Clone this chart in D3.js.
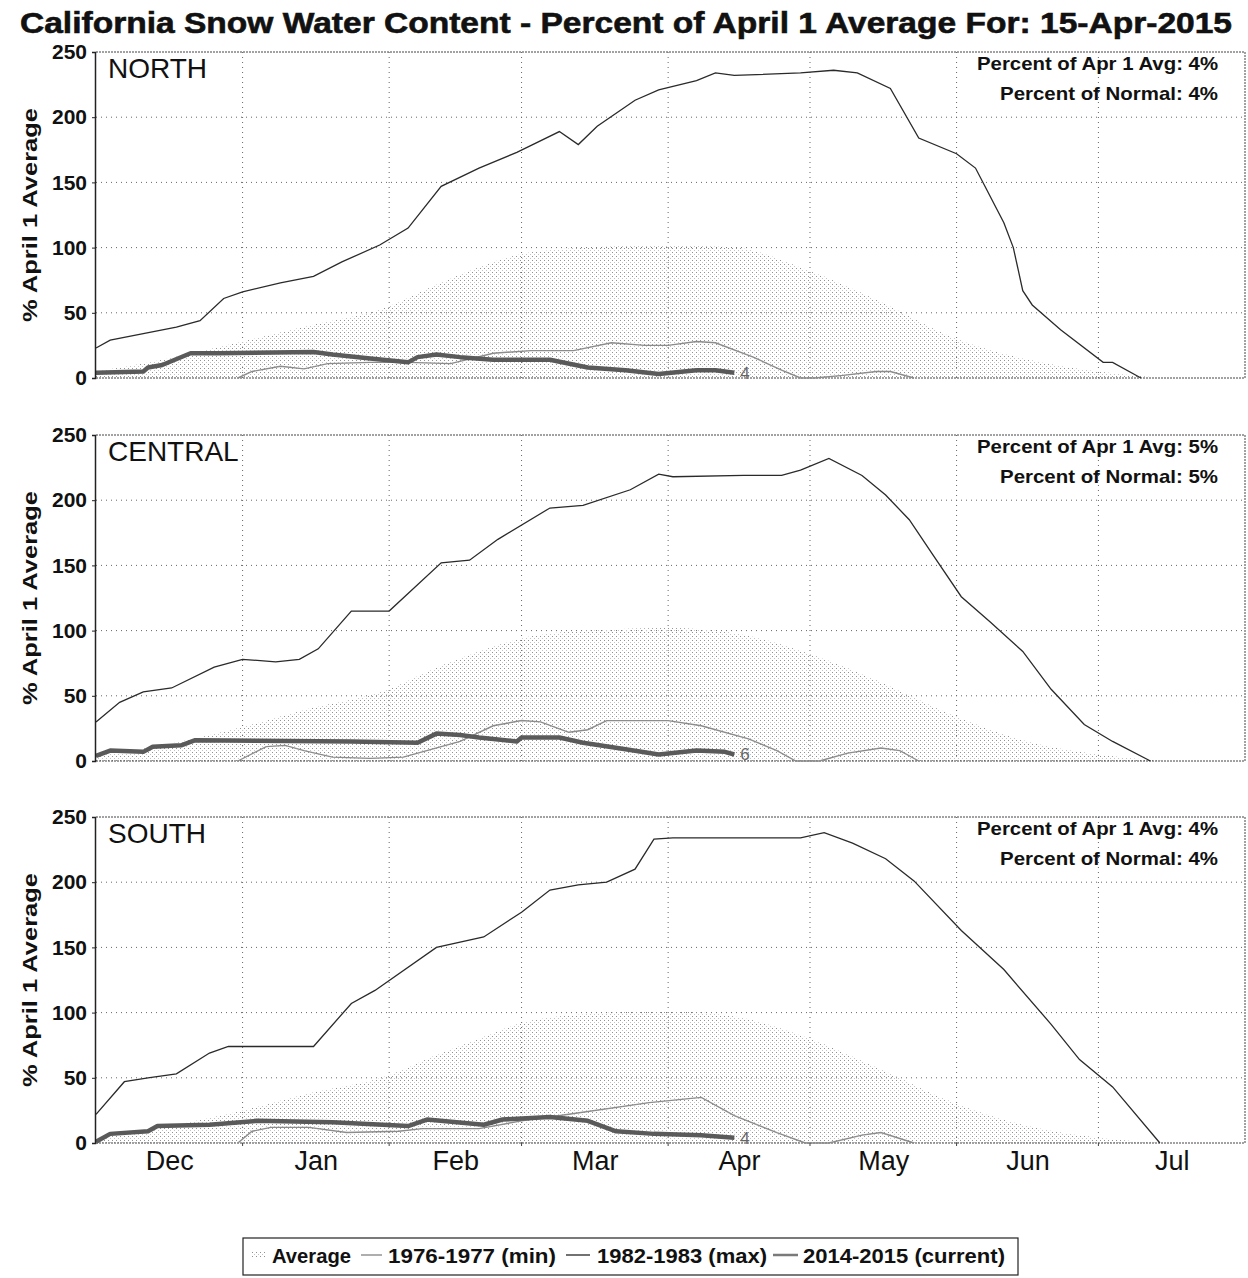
<!DOCTYPE html>
<html><head><meta charset="utf-8">
<script src="https://cdn.jsdelivr.net/npm/d3@7/dist/d3.min.js"></script>
<style>body{margin:0;background:#fff}svg{display:block}</style>
</head><body>
<svg id="c" width="1248" height="1278"></svg>
<script>
const title = "California Snow Water Content - Percent of April 1 Average For: 15-Apr-2015";
const regions = ["NORTH", "CENTRAL", "SOUTH"];
const pctApr1 = ["4%", "5%", "4%"];
const pctNormal = ["4%", "5%", "4%"];
const endLabels = ["4", "6", "4"];
const yTicks = [0, 50, 100, 150, 200, 250];
const monthLabels = ["Dec", "Jan", "Feb", "Mar", "Apr", "May", "Jun", "Jul"];
const seriesNames = ["Average", "1976-1977 (min)", "1982-1983 (max)", "2014-2015 (current)"];

// ---- NORTH ----
const northAvgDates = ["12-01","12-15","01-01","01-15","02-01","02-10","02-20","03-01","03-15","04-01","04-15","05-01","05-15","06-01","06-15","07-01","07-15"];
const northAvgValues = [5,14,28,40,55,70,85,95,100,102,100,82,60,30,15,5,0];
const northMinDates = ["12-31","01-03","01-09","01-14","01-19","01-28","02-05","02-14","02-23","03-03","03-12","03-20","03-27","04-01","04-07","04-11","04-19","04-25","04-29","05-02","05-08","05-15","05-18","05-23"];
const northMinValues = [0,5,9,7,11,12,12,11,19,21,21,27,25,25,28,27,16,6,0,0,2,5,5,0];
const northMaxDates = ["12-01","12-04","12-11","12-18","12-23","12-28","01-01","01-09","01-16","01-22","01-30","02-05","02-12","02-20","02-28","03-09","03-13","03-17","03-25","03-30","04-07","04-11","04-15","04-29","05-06","05-11","05-18","05-24","06-01","06-05","06-07","06-11","06-13","06-15","06-17","06-23","07-02","07-04","07-10"];
const northMaxValues = [23,29,34,39,44,61,66,73,78,89,102,115,147,161,173,189,179,193,213,221,228,234,232,234,236,234,222,184,172,161,147,119,100,67,56,37,12,12,0];
const northCurDates = ["12-01","12-11","12-12","12-15","12-21","12-27","01-16","01-20","01-28","02-05","02-07","02-11","02-16","02-23","03-07","03-15","03-23","03-30","04-07","04-11","04-15"];
const northCurValues = [4,5,8,10,19,19,20,18,15,12,16,18,16,14,14,8,6,3,6,6,4];

// ---- CENTRAL ----
const centralAvgDates = ["12-01","12-15","01-01","01-15","02-01","02-10","02-20","03-01","03-15","04-01","04-15","05-01","05-15","06-01","06-15","07-01","07-15"];
const centralAvgValues = [4,12,26,40,55,70,84,94,100,102,98,82,62,34,16,5,0];
const centralMinDates = ["12-31","01-06","01-10","01-14","01-20","01-28","02-04","02-08","02-16","02-23","03-01","03-05","03-11","03-15","03-19","04-01","04-08","04-18","04-24","04-28","05-03","05-09","05-16","05-20","05-24"];
const centralMinValues = [0,11,12,8,3,2,3,7,15,27,31,30,22,24,31,31,27,17,8,0,0,6,10,8,0];
const centralMaxDates = ["12-01","12-06","12-11","12-17","12-26","01-01","01-08","01-13","01-17","01-24","02-01","02-12","02-18","02-24","03-07","03-14","03-24","03-30","04-02","04-17","04-25","04-29","05-05","05-12","05-17","05-22","05-27","06-02","06-08","06-15","06-21","06-28","07-04","07-12"];
const centralMaxValues = [30,45,53,56,72,78,76,78,86,115,115,152,154,170,194,196,208,220,218,219,219,223,232,219,204,185,158,126,107,84,55,28,15,0];
const centralCurDates = ["12-01","12-04","12-11","12-13","12-19","12-22","01-24","02-07","02-11","02-16","02-20","02-28","03-01","03-09","03-14","03-23","03-30","04-07","04-13","04-15"];
const centralCurValues = [4,8,7,11,12,16,15,14,21,20,18,15,18,18,14,9,5,8,7,5];

// ---- SOUTH ----
const southAvgDates = ["12-01","12-15","01-01","01-15","02-01","02-10","02-20","03-01","03-15","04-01","04-15","05-01","05-15","06-01","06-15","07-01","07-15"];
const southAvgValues = [4,12,25,38,52,66,80,92,99,101,97,80,58,30,14,4,0];
const southMinDates = ["12-31","01-03","01-07","01-15","01-23","02-03","02-08","02-20","03-01","03-11","03-28","04-08","04-15","04-24","04-30","05-05","05-12","05-16","05-23"];
const southMinValues = [0,9,12,12,8,9,11,11,17,22,31,35,21,8,0,0,6,8,0];
const southMaxDates = ["12-01","12-07","12-12","12-18","12-25","12-29","01-16","01-24","01-29","02-11","02-21","03-01","03-07","03-13","03-19","03-25","03-29","04-02","04-29","05-04","05-10","05-17","05-23","06-02","06-11","06-21","06-27","07-04","07-14"];
const southMaxValues = [22,47,50,53,69,74,74,107,117,150,158,177,194,198,200,210,233,234,234,238,230,218,201,163,133,91,64,43,0];
const southCurDates = ["12-01","12-04","12-12","12-14","12-25","01-04","01-20","02-05","02-09","02-21","02-25","03-07","03-15","03-21","03-29","04-08","04-15"];
const southCurValues = [1,7,9,13,14,17,16,13,18,14,18,20,17,9,7,6,4];

const panels = [
  {avg:[northAvgDates,northAvgValues], min:[northMinDates,northMinValues], max:[northMaxDates,northMaxValues], cur:[northCurDates,northCurValues]},
  {avg:[centralAvgDates,centralAvgValues], min:[centralMinDates,centralMinValues], max:[centralMaxDates,centralMaxValues], cur:[centralCurDates,centralCurValues]},
  {avg:[southAvgDates,southAvgValues], min:[southMinDates,southMinValues], max:[southMaxDates,southMaxValues], cur:[southCurDates,southCurValues]}
];

const parse = md => new Date(md.startsWith("12") ? 2014 : 2015, +md.slice(0,2) - 1, +md.slice(3));
const zip = ([ds, vs]) => ds.map((d, i) => ({date: parse(d), value: vs[i]}));

const svg = d3.select("#c");
const FONT = "'Liberation Sans', Arial, sans-serif";

const defs = svg.append("defs");
const pat = defs.append("pattern").attr("id", "stip").attr("patternUnits", "userSpaceOnUse")
  .attr("width", 4).attr("height", 4);
pat.append("rect").attr("x", 0).attr("y", 0).attr("width", 1).attr("height", 1).attr("fill", "#909090");
pat.append("rect").attr("x", 2).attr("y", 2).attr("width", 1).attr("height", 1).attr("fill", "#c4c4c4");

const x = d3.scaleTime().domain([new Date(2014, 11, 1), new Date(2015, 7, 1)]).range([96, 1245]);
const monthStarts = d3.timeMonth.range(new Date(2014, 11, 1), new Date(2015, 7, 2));
const monthMids = monthStarts.slice(0, 8).map((d, i) => new Date((+d + +monthStarts[i + 1]) / 2));

const tops = [52, 435, 817];
const H = 326;

svg.append("text").attr("x", 20).attr("y", 33)
  .attr("font-family", FONT).attr("font-weight", "bold").attr("font-size", 29)
  .attr("textLength", 1212).attr("lengthAdjust", "spacingAndGlyphs")
  .attr("fill", "#111").attr("stroke", "#111").attr("stroke-width", 0.6).text(title);

panels.forEach((p, i) => {
  const top = tops[i];
  const y = d3.scaleLinear().domain([0, 250]).range([top + H, top]);
  const g = svg.append("g");

  // gridlines
  g.selectAll(".hg").data(yTicks.slice(1, -1)).join("line")
    .attr("x1", x.range()[0]).attr("x2", x.range()[1])
    .attr("y1", d => y(d)).attr("y2", d => y(d))
    .attr("stroke", "#666").attr("stroke-width", 1).attr("stroke-dasharray", "1,4");
  g.selectAll(".vg").data(monthStarts.slice(1, -1)).join("line")
    .attr("x1", d => x(d)).attr("x2", d => x(d))
    .attr("y1", top).attr("y2", top + H)
    .attr("stroke", "#666").attr("stroke-width", 1).attr("stroke-dasharray", "1,4");

  // average area
  const avg = zip(p.avg);
  g.append("path").datum(avg)
    .attr("d", d3.area().x(d => x(d.date)).y0(y(0)).y1(d => y(d.value)).curve(d3.curveMonotoneX))
    .attr("fill", "url(#stip)").attr("stroke", "none");

  // frame
  g.append("line").attr("x1", 96).attr("x2", 1245).attr("y1", top).attr("y2", top)
    .attr("stroke", "#444").attr("stroke-dasharray", "2,1");
  g.append("line").attr("x1", 1245).attr("x2", 1245).attr("y1", top).attr("y2", top + H)
    .attr("stroke", "#444").attr("stroke-dasharray", "2,1");
  g.append("line").attr("x1", 96).attr("x2", 1245).attr("y1", top + H).attr("y2", top + H)
    .attr("stroke", "#444").attr("stroke-dasharray", "2,1");

  const line = d3.line().x(d => x(d.date)).y(d => y(d.value));
  g.append("path").datum(zip(p.min)).attr("d", line)
    .attr("fill", "none").attr("stroke", "#8c8c8c").attr("stroke-width", 1.4);
  g.append("path").datum(zip(p.max)).attr("d", line)
    .attr("fill", "none").attr("stroke", "#2a2a2a").attr("stroke-width", 1.3);
  const cur = zip(p.cur);
  g.append("path").datum(cur).attr("d", line)
    .attr("fill", "none").attr("stroke", "#5a5a5a").attr("stroke-width", 4.5).attr("stroke-linejoin", "round");
  const last = cur[cur.length - 1];
  g.append("text").attr("x", x(last.date) + 6).attr("y", y(last.value) + 6)
    .attr("font-family", FONT).attr("font-size", 17).attr("fill", "#666").text(endLabels[i]);

  // y axis
  const ya = g.append("g").attr("transform", "translate(95,0)")
    .call(d3.axisLeft(y).tickValues(yTicks).tickSize(3).tickPadding(5));
  ya.select(".domain").attr("stroke", "#222").attr("stroke-width", 1.5);
  ya.selectAll(".tick line").attr("stroke", "#222");
  ya.selectAll("text").attr("font-family", FONT).attr("font-weight", "bold")
    .attr("font-size", 21).attr("fill", "#111");

  g.append("text")
    .attr("transform", `translate(37,${top + H / 2}) rotate(-90)`)
    .attr("text-anchor", "middle").attr("font-family", FONT).attr("font-weight", "bold")
    .attr("font-size", 21).attr("textLength", 214).attr("lengthAdjust", "spacingAndGlyphs")
    .attr("fill", "#111").text("% April 1 Average");

  g.append("text").attr("x", 108).attr("y", top + 26)
    .attr("font-family", FONT).attr("font-size", 28).attr("fill", "#111").text(regions[i]);

  g.append("text").attr("x", 1218).attr("y", top + 18).attr("text-anchor", "end")
    .attr("font-family", FONT).attr("font-weight", "bold").attr("font-size", 19).attr("fill", "#111")
    .attr("textLength", 241).attr("lengthAdjust", "spacingAndGlyphs")
    .text("Percent of Apr 1 Avg: " + pctApr1[i]);
  g.append("text").attr("x", 1218).attr("y", top + 48).attr("text-anchor", "end")
    .attr("font-family", FONT).attr("font-weight", "bold").attr("font-size", 19).attr("fill", "#111")
    .attr("textLength", 218).attr("lengthAdjust", "spacingAndGlyphs")
    .text("Percent of Normal: " + pctNormal[i]);

  if (i === 2) {
    const xa = g.append("g").attr("transform", `translate(0,${top + H})`)
      .call(d3.axisBottom(x).tickValues(monthMids).tickSize(0).tickPadding(8)
        .tickFormat((d, k) => monthLabels[k]));
    xa.select(".domain").remove();
    xa.selectAll("text").attr("font-family", FONT).attr("font-size", 27).attr("fill", "#111");
    g.selectAll(".mt").data(monthStarts.slice(1, -1)).join("line")
      .attr("x1", d => x(d)).attr("x2", d => x(d)).attr("y1", top + H).attr("y2", top + H + 3)
      .attr("stroke", "#444");
  }
});

// legend
const lg = svg.append("g");
lg.append("rect").attr("x", 243).attr("y", 1238).attr("width", 775).attr("height", 37)
  .attr("fill", "#fff").attr("stroke", "#222").attr("stroke-width", 1.2);
const legendItems = [
  {tx: 272, tw: 79, sw: [251, 266]},
  {tx: 388, tw: 168, sw: [361, 382]},
  {tx: 597, tw: 170, sw: [566, 590]},
  {tx: 803, tw: 202, sw: [773, 798]}
];
const legendStyles = [
  {stroke: "url(#stip)", w: 6},
  {stroke: "#8c8c8c", w: 1.4},
  {stroke: "#262626", w: 1.3},
  {stroke: "#7a7a7a", w: 2.5}
];
legendItems.forEach((it, k) => {
  lg.append("line").attr("x1", it.sw[0]).attr("x2", it.sw[1]).attr("y1", 1255).attr("y2", 1255)
    .attr("stroke", legendStyles[k].stroke).attr("stroke-width", legendStyles[k].w);
  lg.append("text").attr("x", it.tx).attr("y", 1263)
    .attr("font-family", FONT).attr("font-weight", "bold").attr("font-size", 20)
    .attr("textLength", it.tw).attr("lengthAdjust", "spacingAndGlyphs")
    .attr("fill", "#111").text(seriesNames[k]);
});
</script>
</body></html>
